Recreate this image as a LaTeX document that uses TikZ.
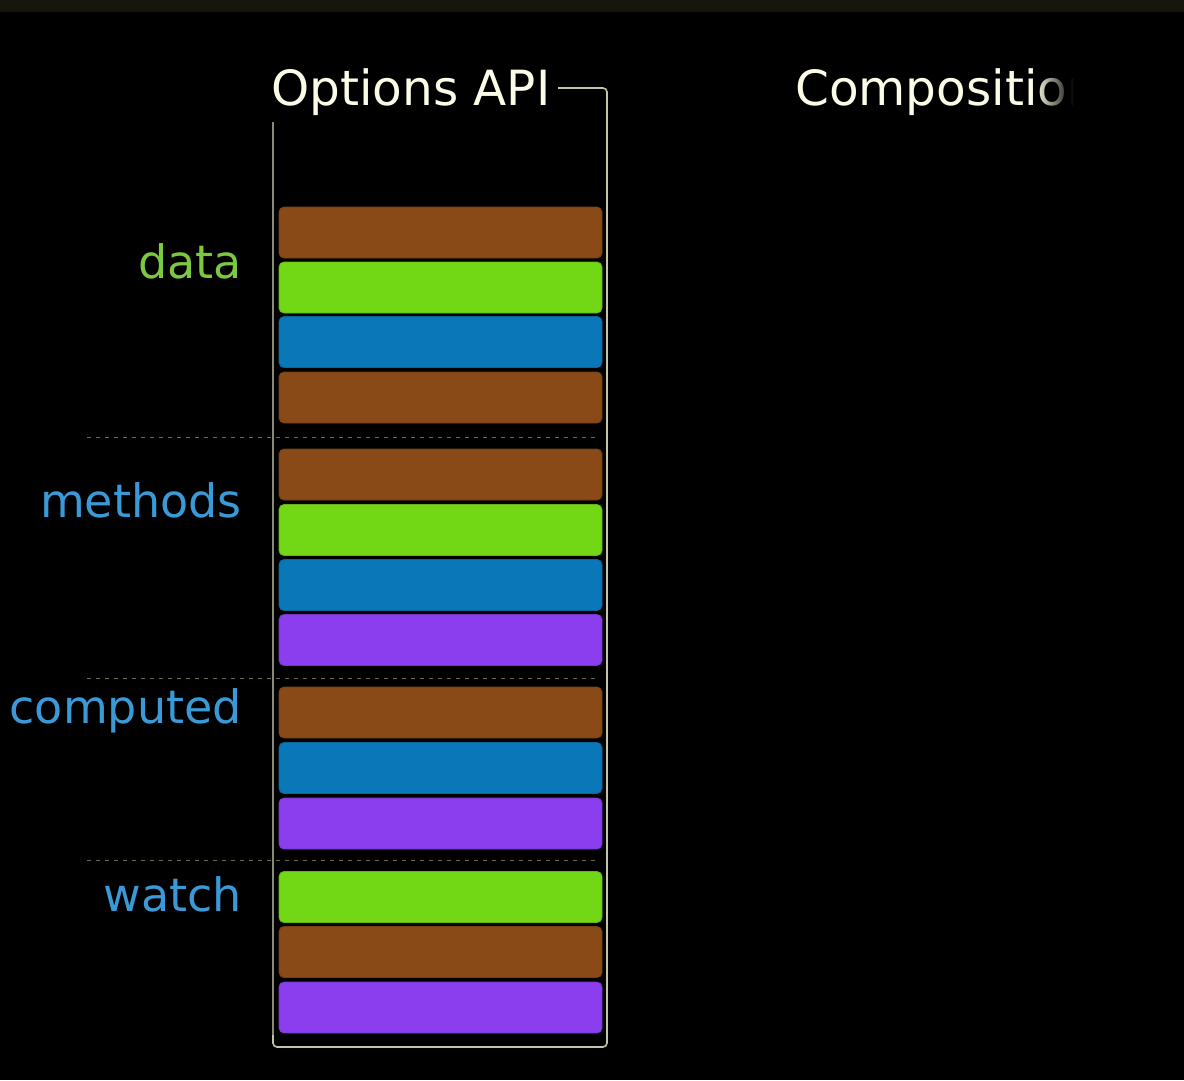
\documentclass[tikz,border=0pt]{standalone}
\usepackage{fontspec}
\setmainfont{DejaVu Sans}
\usetikzlibrary{fadings}
\definecolor{barbrown}{HTML}{8A4A18}
\definecolor{bargreen}{HTML}{72D816}
\definecolor{barblue}{HTML}{0A78B8}
\definecolor{barpurple}{HTML}{8A3EEE}
\definecolor{lblgreen}{HTML}{7CC840}
\definecolor{lblblue}{HTML}{3A9AD8}
\definecolor{framecol}{HTML}{C4C4A8}
\definecolor{framel}{HTML}{8A8A78}
\definecolor{dashcol}{HTML}{6A6A52}
\definecolor{topband}{HTML}{16160F}
\definecolor{titlecol}{HTML}{FBFBE6}
\tikzfading[name=fadeout, left color=transparent!100, right color=transparent!0]
\tikzset{
  bar/.style={rounded corners=5pt, minimum width=323pt, minimum height=51pt, inner sep=0pt, fill=#1, draw=#1!85!black, line width=0.8pt},
  lbl/.style={anchor=base east, inner sep=0pt, font=\fontsize{46}{50}\selectfont, text=#1},
  title/.style={anchor=base west, inner sep=0pt, font=\fontsize{48.5}{52}\selectfont, text=titlecol},
  sep/.style={draw=dashcol, line width=1pt, dash pattern=on 4pt off 5pt},
  frame/.style={draw=framecol, line width=1.6pt, rounded corners=4pt}
}
\begin{document}
\begin{tikzpicture}[x=1pt,y=-1pt]
\fill[black] (0,0) rectangle (1184,1080);
\fill[topband] (0,0) rectangle (1184,12);
\useasboundingbox (0,0) rectangle (1184,1080);

% titles
\node[title] (opt) at (271,105) {Options API};
\begin{scope}
\clip (780,40) rectangle (1073,140);
\node[title] (comp) at (795,105) {Composition};
\end{scope}
\fill[black, path fading=fadeout] (1035,50) rectangle (1074,130);

% frame
\coordinate (ftl) at (558,88);
\coordinate (fr) at (607,1047);
\coordinate (fl) at (273,122);
\draw[frame] (ftl) -| (fr) -| (fl);
\draw[draw=framel, line width=1.6pt] (273,122) -- (273,1035);

% separators
\coordinate (s1a) at (87,437); \coordinate (s1b) at (600,437);
\coordinate (s2a) at (87,678); \coordinate (s2b) at (600,678);
\coordinate (s3a) at (87,860); \coordinate (s3b) at (600,860);
\draw[sep] (s1a) -- (s1b);
\draw[sep] (s2a) -- (s2b);
\draw[sep] (s3a) -- (s3b);

% bars
\node[bar=barbrown]  (b1)  at (440.5,232.5) {};
\node[bar=bargreen]  (b2)  at (440.5,287.5) {};
\node[bar=barblue]   (b3)  at (440.5,342) {};
\node[bar=barbrown]  (b4)  at (440.5,397.5) {};
\node[bar=barbrown]  (b5)  at (440.5,474.5) {};
\node[bar=bargreen]  (b6)  at (440.5,530) {};
\node[bar=barblue]   (b7)  at (440.5,585) {};
\node[bar=barpurple] (b8)  at (440.5,640) {};
\node[bar=barbrown]  (b9)  at (440.5,712.5) {};
\node[bar=barblue]   (b10) at (440.5,768) {};
\node[bar=barpurple] (b11) at (440.5,823.5) {};
\node[bar=bargreen]  (b12) at (440.5,897) {};
\node[bar=barbrown]  (b13) at (440.5,952) {};
\node[bar=barpurple] (b14) at (440.5,1007.5) {};

% labels
\node[lbl=lblgreen] (ldata) at (242,278) {data};
\node[lbl=lblblue] (lmeth) at (242,517) {methods};
\node[lbl=lblblue] (lcomp) at (242,723) {computed};
\node[lbl=lblblue] (lwatch) at (242,911) {watch};
\end{tikzpicture}
\end{document}
